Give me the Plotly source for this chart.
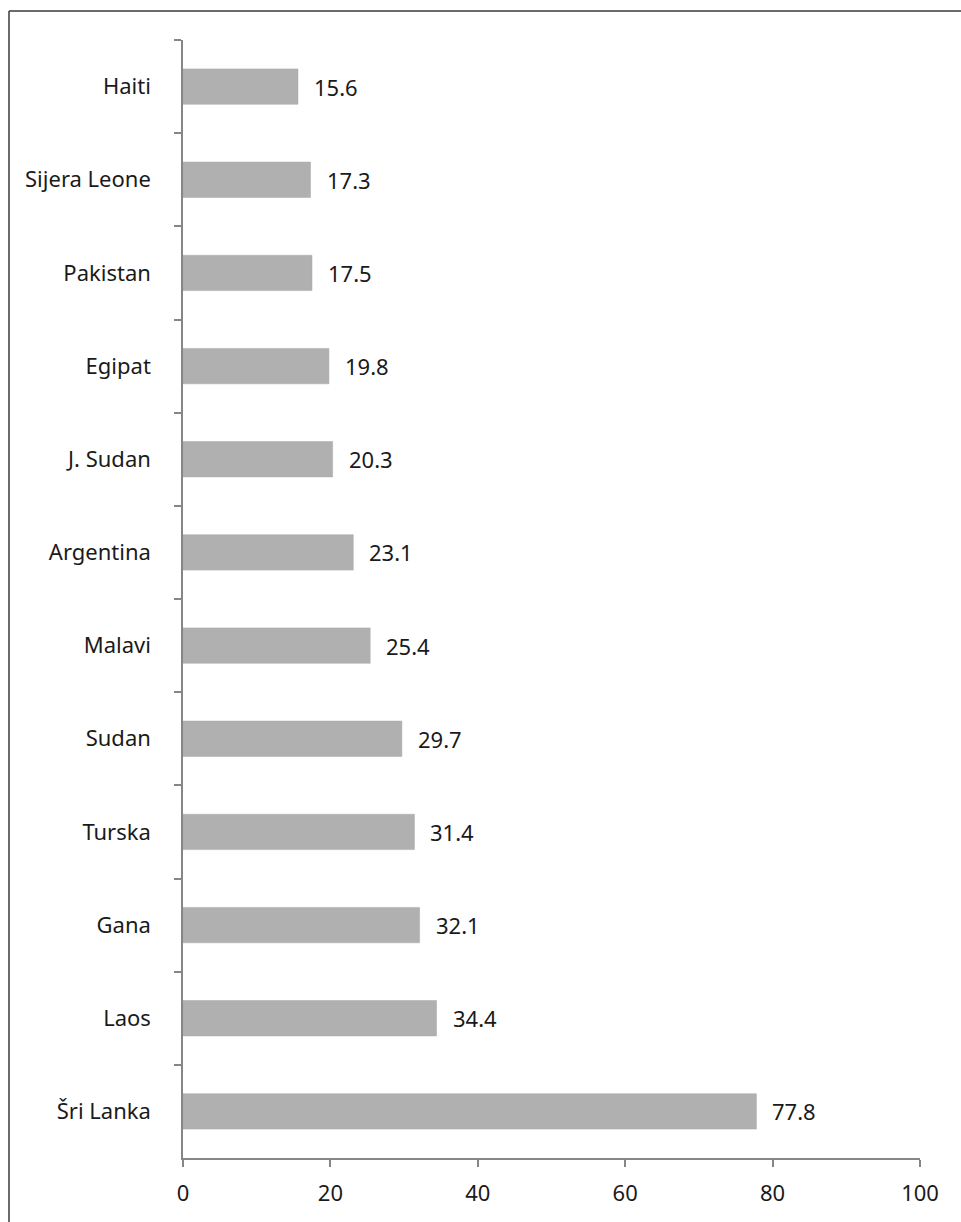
import plotly.graph_objects as go

countries = ["Haiti", "Sijera Leone", "Pakistan", "Egipat", "J. Sudan", "Argentina",
             "Malavi", "Sudan", "Turska", "Gana", "Laos", "Šri Lanka"]
values = [15.6, 17.3, 17.5, 19.8, 20.3, 23.1, 25.4, 29.7, 31.4, 32.1, 34.4, 77.8]
x_ticks = [0, 20, 40, 60, 80, 100]

W, H = 961, 1222
L, R, T, B = 183, 41, 40, 64
pw, ph = W - L - R, H - T - B

FONT = "Noto Sans"
FSIZE = 22
INK = "#1a1a1a"
AXIS = "#868686"

fig = go.Figure(go.Bar(
    y=countries,
    x=values,
    orientation="h",
    marker=dict(color="#b0b0b0", line=dict(color="#a8a8a8", width=0.5)),
    hoverinfo="x+y",
))

# value labels to the right of each bar
for c, v in zip(countries, values):
    fig.add_annotation(x=v, y=c, text=f"{v:.1f}", showarrow=False,
                       xanchor="left", yanchor="middle", xshift=14,
                       font=dict(family=FONT, size=FSIZE, color=INK))

# frame lines along the top and left edge of the figure
def px_x(p):
    return (p - L) / pw

def px_y(p):
    return (H - B - p) / ph

fig.add_shape(type="line", xref="paper", yref="paper",
              x0=px_x(9), x1=px_x(W + 5), y0=px_y(11), y1=px_y(11),
              line=dict(color="#3a3a3a", width=1.5))
fig.add_shape(type="line", xref="paper", yref="paper",
              x0=px_x(9), x1=px_x(9), y0=px_y(11), y1=px_y(H + 5),
              line=dict(color="#3a3a3a", width=1.5))

fig.update_layout(
    width=W, height=H,
    margin=dict(l=L, r=R, t=T, b=B),
    paper_bgcolor="white",
    plot_bgcolor="white",
    bargap=0.62,
    showlegend=False,
    font=dict(family=FONT, size=FSIZE, color=INK),
    xaxis=dict(
        range=[0, 100],
        tickvals=x_ticks,
        ticktext=[str(t) for t in x_ticks],
        showgrid=False,
        zeroline=False,
        showline=True,
        linecolor=AXIS,
        linewidth=1.5,
        ticks="outside",
        ticklen=7,
        tickcolor=AXIS,
        tickwidth=1.5,
        tickfont=dict(family=FONT, size=FSIZE, color=INK),
        ticklabelstandoff=8,
    ),
    yaxis=dict(
        categoryorder="array",
        categoryarray=countries,
        autorange="reversed",
        showgrid=False,
        zeroline=False,
        showline=True,
        linecolor=AXIS,
        linewidth=1.5,
        ticks="outside",
        tickson="boundaries",
        ticklen=7,
        tickcolor=AXIS,
        tickwidth=1.5,
        tickfont=dict(family=FONT, size=FSIZE, color=INK),
        ticklabelstandoff=26,
    ),
)

fig.write_html("out.html")
